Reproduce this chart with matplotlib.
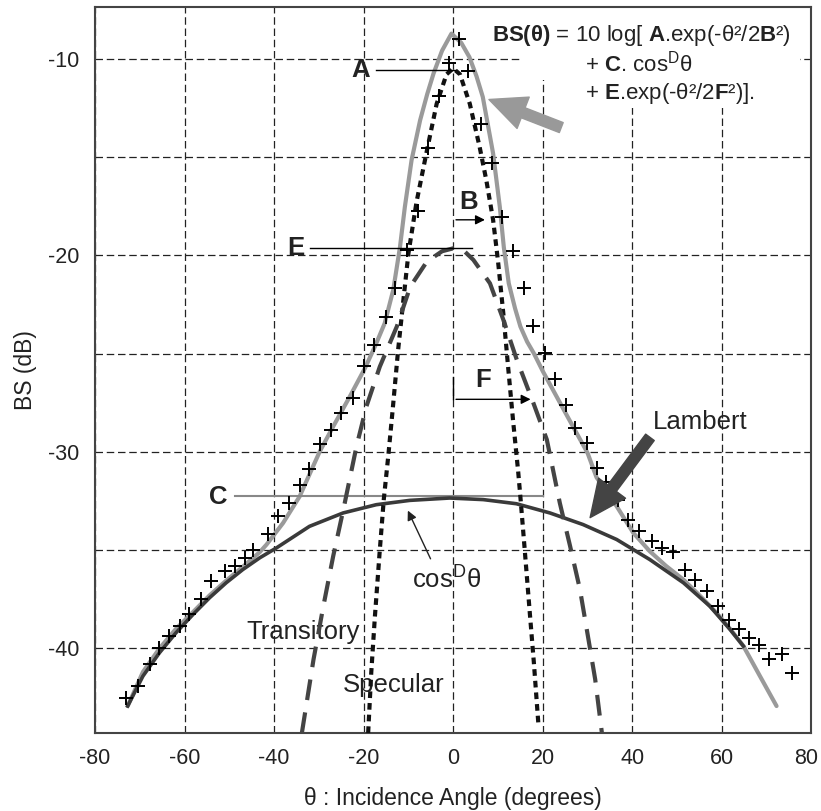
import matplotlib
matplotlib.use('Agg')
import matplotlib.pyplot as plt
from matplotlib.patches import Polygon
from matplotlib.ticker import MultipleLocator, FuncFormatter

plt.rcParams['font.family'] = ['Liberation Sans', 'DejaVu Sans']
plt.rcParams['mathtext.fontset'] = 'custom'
plt.rcParams['mathtext.rm'] = 'Liberation Sans'
plt.rcParams['mathtext.bf'] = 'Liberation Sans:bold'
plt.rcParams['mathtext.it'] = 'Liberation Sans:italic'
plt.rcParams['axes.unicode_minus'] = False

meas_theta = [-73.0, -70.4, -67.8, -65.6, -63.4, -61.1, -58.9, -56.3, -54.0, -51.0,
              -48.8, -46.6, -44.7, -41.4, -39.1, -36.6, -34.2, -32.1, -29.7, -27.2,
              -25.0, -22.4, -20.0, -17.8, -15.1, -13.1, -10.3, -7.9, -5.6, -3.2,
              -0.9, 1.3, 3.3, 6.3, 8.7, 11.0, 13.4, 15.8, 17.9, 20.5,
              22.7, 25.2, 27.3, 29.8, 32.0, 34.2, 36.8, 39.1, 41.5, 44.3,
              46.6, 49.1, 51.8, 54.0, 56.6, 59.2, 61.5, 63.9, 66.1, 68.2,
              70.6, 73.4, 75.6]
meas_bs = [-42.5, -41.9, -40.8, -39.96, -39.37, -38.87, -38.27, -37.5, -36.58, -36.07,
           -35.8, -35.4, -34.97, -34.2, -33.28, -32.6, -31.67, -30.87, -29.59, -28.88,
           -28.03, -27.27, -25.63, -24.56, -23.15, -21.68, -19.74, -17.74, -14.57, -11.9,
           -10.2, -8.98, -10.63, -13.35, -15.33, -18.04, -19.8, -21.68, -23.6, -24.95,
           -26.3, -27.6, -28.8, -29.57, -30.8, -31.55, -32.47, -33.45, -34.04, -34.55,
           -34.88, -35.1, -35.99, -36.5, -37.09, -37.85, -38.53, -39.0, -39.46, -39.85,
           -40.52, -40.3, -41.23]

# full model (grey curve)
total_theta = [-72.7, -69.3, -65.6, -61.9, -58.1, -54.4, -50.7, -47.0, -43.2, -41.7,
               -38.0, -34.3, -31.3, -29.8, -26.8, -23.1, -19.7, -17.5, -15.3, -13.4,
               -11.9, -10.8, -9.3, -7.4, -5.8, -4.4, -2.5, -0.4, 1.8, 3.6,
               5.2, 6.6, 8.9, 10.4, 11.3, 12.4, 13.8, 15.0, 16.5, 18.0,
               20.0, 25.5, 30.0, 32.0, 36.5, 40.2, 43.9, 47.5, 51.4, 55.0,
               58.8, 61.8, 64.8, 68.5, 72.2]
total_bs = [-42.93, -41.2, -40.0, -39.0, -38.15, -37.3, -36.55, -35.85, -35.1, -34.72,
            -33.62, -32.27, -30.74, -29.98, -28.71, -27.19, -25.74, -24.65, -23.46, -21.77,
            -19.6, -17.54, -15.16, -13.14, -11.8, -10.76, -9.6, -8.73, -9.2, -9.92,
            -10.9, -11.95, -14.82, -17.54, -19.6, -21.43, -22.7, -23.63, -24.4, -24.99,
            -25.9, -28.2, -30.06, -31.3, -32.77, -34.12, -35.06, -35.8, -36.5, -37.3,
            -38.19, -39.0, -39.88, -41.41, -42.93]

# Lambert term C.cos^D
lambert_theta = [-72.7, -69.3, -65.6, -61.9, -58.1, -54.4, -50.7, -47.0, -43.2, -39.5,
                 -32.1, -24.6, -17.2, -9.7, -0.8, 6.7, 14.1, 21.6, 29.0, 36.5,
                 43.9, 51.4, 57.3, 61.8, 64.8]
lambert_bs = [-42.93, -41.41, -40.22, -39.2, -38.27, -37.42, -36.66, -35.99, -35.39, -34.89,
              -33.79, -33.11, -32.69, -32.47, -32.35, -32.43, -32.64, -33.11, -33.7, -34.46,
              -35.48, -36.66, -37.85, -39.03, -39.88]

# specular term
spec_theta = [-19.0, -18.3, -17.5, -16.4, -15.5, -14.5, -13.5, -12.3, -11.0, -10.0,
              -8.2, -5.9, -3.7, -1.5, 0.0, 1.5, 3.7, 5.9, 7.4, 8.9,
              10.0, 11.2, 12.3, 13.4, 14.5, 15.0, 15.9, 17.1, 18.0, 19.0]
spec_bs = [-44.3, -41.2, -38.4, -35.0, -32.4, -30.2, -27.8, -24.8, -22.0, -19.9,
           -17.3, -14.7, -12.3, -10.8, -10.5, -10.8, -12.3, -14.5, -16.2, -18.2,
           -20.3, -23.0, -25.8, -28.5, -31.0, -32.3, -34.8, -38.2, -40.7, -43.8]

# transitory term
trans_theta = [-33.8, -31.2, -29.0, -26.8, -24.5, -21.6, -19.4, -16.4, -12.6, -9.6,
               -5.9, -2.5, 0.0, 2.5, 4.5, 8.2, 11.2, 14.2, 17.9, 20.9,
               23.8, 26.1, 28.3, 30.2, 31.7, 33.2]
trans_bs = [-44.3, -40.56, -37.85, -35.3, -32.9, -29.72, -27.7, -25.67, -23.63, -21.6,
            -20.33, -19.8, -19.65, -19.8, -20.24, -21.43, -23.29, -25.32, -27.52, -29.38,
            -32.6, -34.8, -37.0, -39.54, -41.57, -44.3]

fig = plt.figure(figsize=(8.21, 8.11), dpi=100)
ax = fig.add_axes([0.1157, 0.0962, 0.8727, 0.8946])

ax.set_xlim(-80, 80)
ax.set_ylim(-44.3, -7.4)
ax.xaxis.set_major_locator(MultipleLocator(20))
# the right-most label is drawn by hand a bit to the left so it is not cut
ax.xaxis.set_major_formatter(FuncFormatter(lambda v, p: '' if v >= 80 else f'{v:g}'))
ax.yaxis.set_major_locator(MultipleLocator(10))
ax.yaxis.set_minor_locator(MultipleLocator(5))
ax.set_axisbelow(True)
ax.grid(True, which='both', color='#222222', lw=0.9, linestyle=(0, (6, 3)))
ax.tick_params(which='both', length=0, labelsize=15.5, colors='#222222')
ax.tick_params(axis='x', pad=11)
ax.tick_params(axis='y', pad=11)
for sp in ax.spines.values():
    sp.set_color('#444444')
    sp.set_linewidth(1.5)
ax.annotate('80', xy=(80, 0), xycoords=('data', 'axes fraction'), xytext=(-4, -11),
            textcoords='offset points', ha='center', va='top', fontsize=15.5, color='#222222')

# white box behind the formula
ax.add_patch(Polygon([(14.9, -7.4), (77.4, -7.4), (77.4, -12.5), (27, -12.5),
                      (27, -11.1), (14.9, -11.1)], closed=True, fc='white', ec='none', zorder=1))

ax.plot(total_theta, total_bs, color='#9a9a9a', lw=3, zorder=3, solid_capstyle='round')
ax.plot(lambert_theta, lambert_bs, color='#3a3a3a', lw=2.6, zorder=4)
ax.plot(spec_theta, spec_bs, color='#111111', lw=3, linestyle=(0, (1.6, 1.2)), zorder=4)
ax.plot(trans_theta, trans_bs, color='#444444', lw=3, linestyle=(0, (5, 3)), zorder=4)
ax.plot(meas_theta, meas_bs, '+', color='black', ms=10, mew=1.4, zorder=5)

# labels of the terms
bold = dict(fontsize=18.5, fontweight='bold', color='#222222', va='center')
ax.text(-18.6, -10.6, 'A', ha='right', **bold)
ax.plot([-17.3, 0.5], [-10.6, -10.6], color='black', lw=1, zorder=6)
ax.text(-33.3, -19.65, 'E', ha='right', **bold)
ax.plot([-32.0, 4.2], [-19.63, -19.63], color='black', lw=1, zorder=6)
ax.text(3.4, -17.3, 'B', ha='center', **bold)
ax.annotate('', xy=(7.7, -18.2), xytext=(0, -18.2),
            arrowprops=dict(arrowstyle='-|>', color='black', lw=1, mutation_scale=14), zorder=6)
ax.text(6.6, -26.35, 'F', ha='center', **bold)
ax.annotate('', xy=(17.9, -27.33), xytext=(0, -27.33),
            arrowprops=dict(arrowstyle='-|>', color='black', lw=1, mutation_scale=14), zorder=6)
ax.plot([0, 0], [-26.2, -27.33], color='black', lw=1, zorder=6)
ax.text(-50.5, -32.3, 'C', ha='right', **bold)
ax.plot([-48.8, 20.0], [-32.25, -32.25], color='#888888', lw=1.5, zorder=3)

ax.text(-1.6, -36.5, r'cos$^{\mathrm{D}}$θ', ha='center', va='center', fontsize=18.5, color='#222222')
ax.annotate('', xy=(-10.4, -32.86), xytext=(-4.8, -35.57),
            arrowprops=dict(arrowstyle='-|>', color='#222222', lw=1, mutation_scale=14), zorder=6)

ax.text(55.1, -28.5, 'Lambert', ha='center', va='center', fontsize=18.5, color='#222222')
ax.annotate('', xy=(30.2, -33.46), xytext=(44.3, -29.15),
            arrowprops=dict(arrowstyle='simple,head_length=1.2,head_width=1.1,tail_width=0.35',
                            color='#444444', mutation_scale=22), zorder=6)
ax.annotate('', xy=(7.4, -12.03), xytext=(24.7, -13.56),
            arrowprops=dict(arrowstyle='simple,head_length=1.2,head_width=1.1,tail_width=0.35',
                            color='#999999', mutation_scale=22), zorder=6)

ax.text(-46.1, -39.15, 'Transitory', ha='left', va='center', fontsize=18.5, color='#222222')
ax.text(-24.7, -41.85, 'Specular', ha='left', va='center', fontsize=18.5, color='#222222')

# model formula
ftxt = dict(fontsize=16, color='#222222', va='center', ha='left', zorder=7)
ax.text(8.6, -8.82, r'$\mathbf{BS(θ)}$ = 10 log[ $\mathbf{A}$.exp(-θ²/2$\mathbf{B}$²)', **ftxt)
ax.text(29.4, -10.24, r'+ $\mathbf{C}$. cos$^{\mathrm{D}}$θ', **ftxt)
ax.text(29.4, -11.77, r'+ $\mathbf{E}$.exp(-θ²/2$\mathbf{F}$²)].', **ftxt)

ax.set_xlabel('θ : Incidence Angle (degrees)', fontsize=16.5, color='#222222', labelpad=13)
ax.set_ylabel('BS (dB)', fontsize=16.5, color='#222222', labelpad=8)

fig.savefig('out.png', dpi=100)
